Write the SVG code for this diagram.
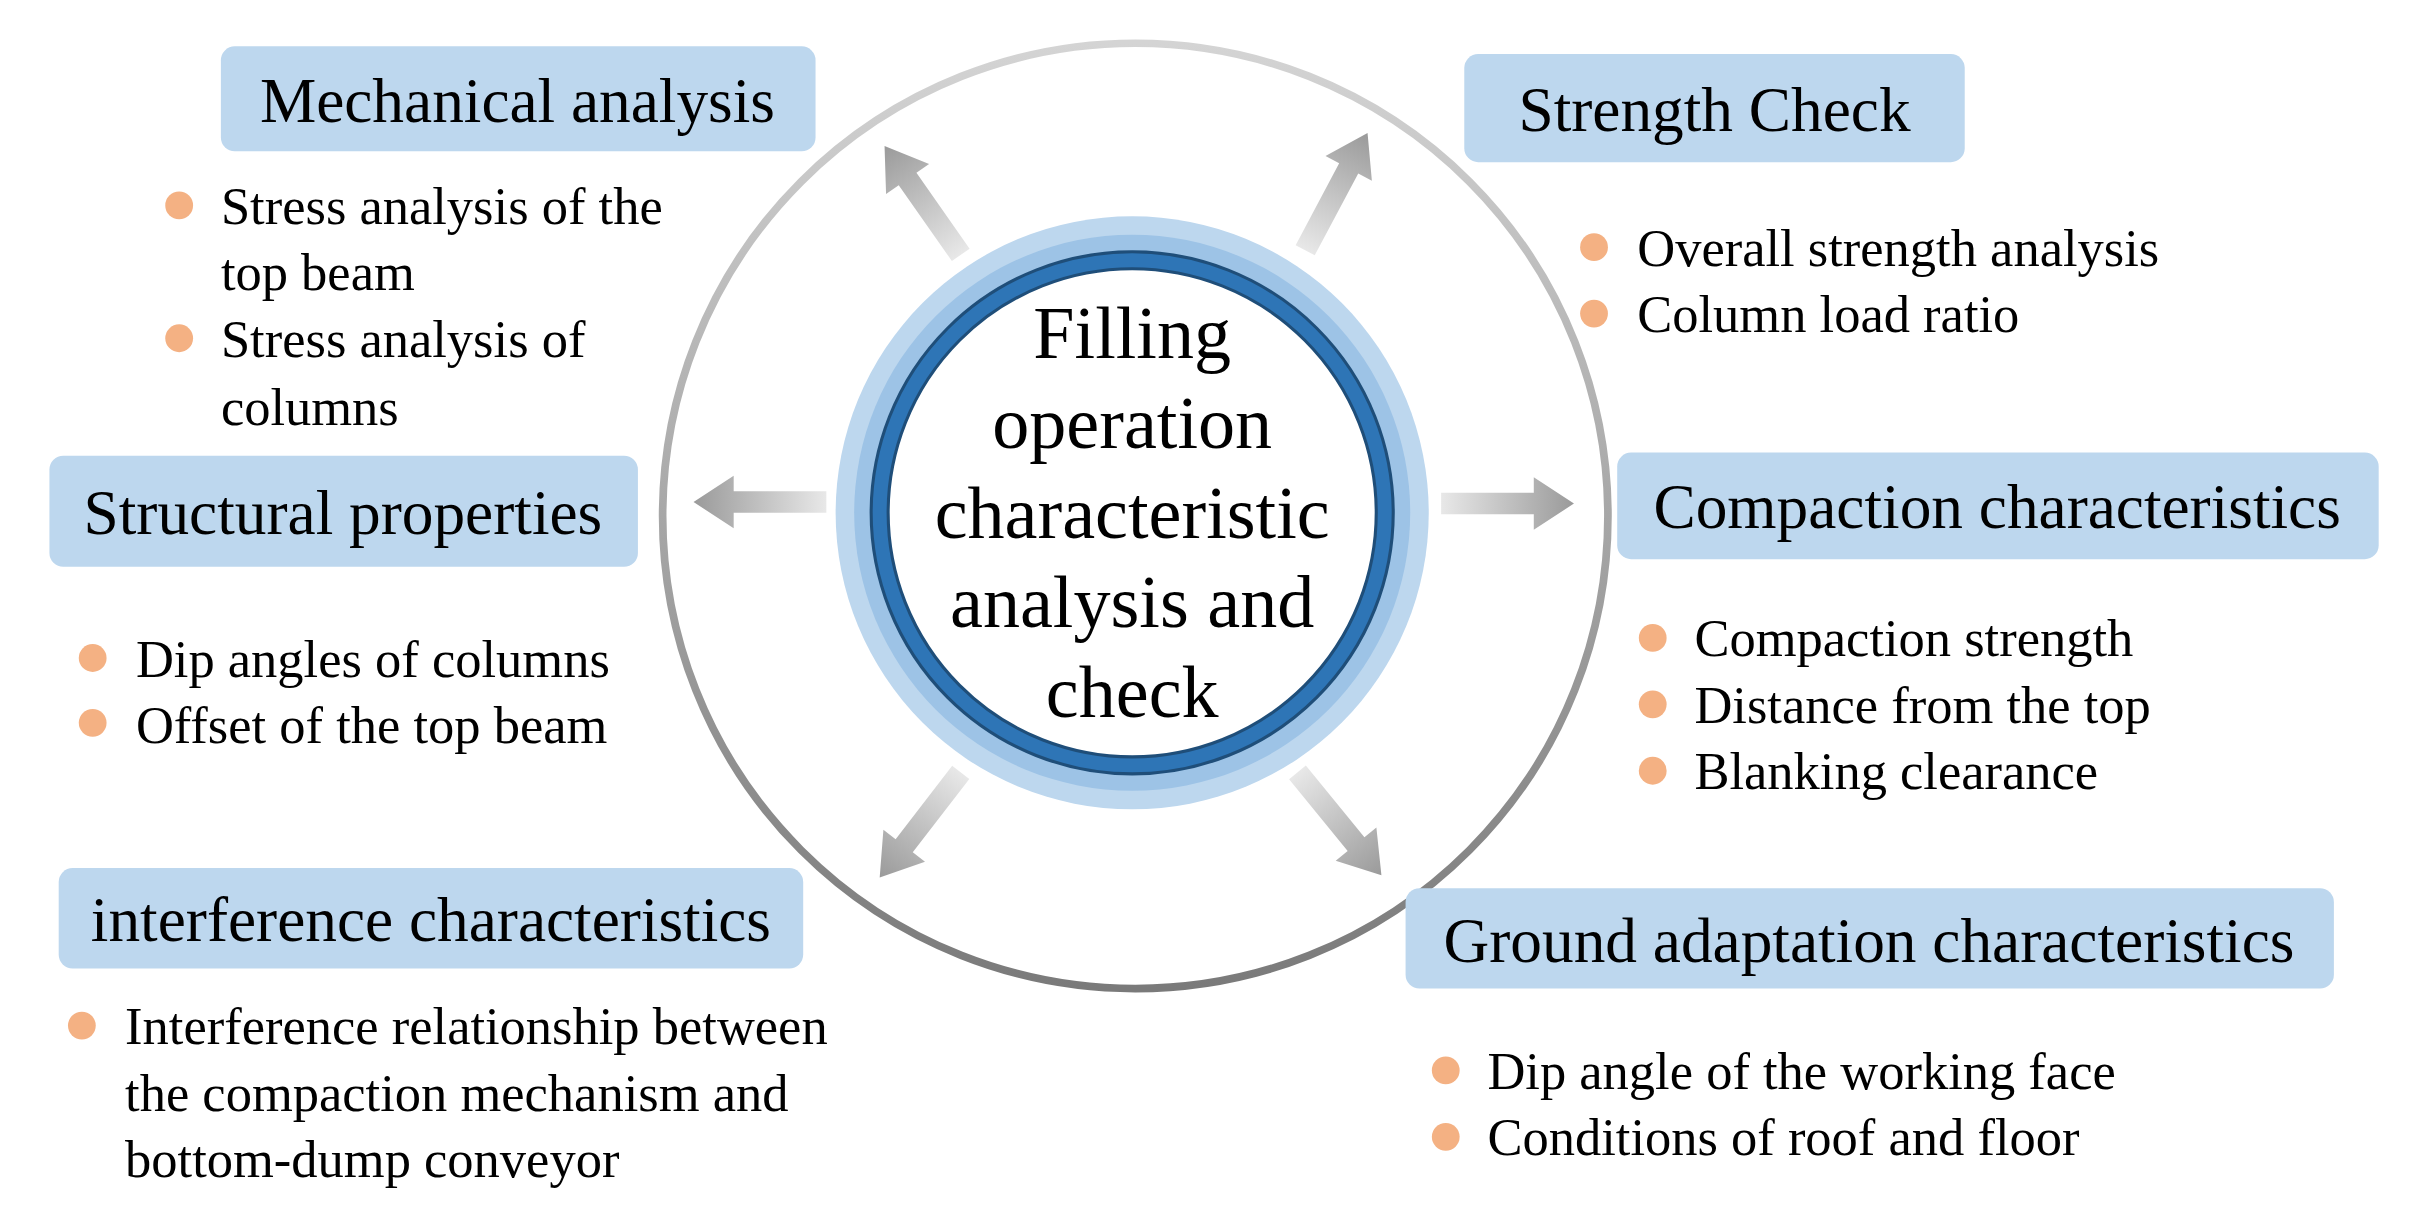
<svg xmlns="http://www.w3.org/2000/svg" width="2422" height="1231" viewBox="0 0 2422 1231">
<defs>
<linearGradient id="ring" x1="0" y1="0" x2="0" y2="1"><stop offset="0" stop-color="#d4d4d4"/><stop offset="1" stop-color="#7a7a7a"/></linearGradient>
<linearGradient id="arr" x1="0" y1="0" x2="1" y2="0"><stop offset="0" stop-color="#e8e8e8"/><stop offset="1" stop-color="#9a9a9a"/></linearGradient>
<path id="ar" d="M0,-7 L60,-7 L60,-17 L86,0 L60,17 L60,7 L0,7 Z" fill="url(#arr)"/>
<style>
.box{fill:#BDD7EE}
.h{font-family:"Liberation Serif",serif;font-size:41px;fill:#000;text-anchor:middle}
.t{font-family:"Liberation Serif",serif;font-size:34px;fill:#000}
.c{font-family:"Liberation Serif",serif;font-size:48px;fill:#000;text-anchor:middle}
.b{fill:#F4B183}
</style>
</defs>
<rect width="2422" height="1231" fill="#fff"/>
<g transform="scale(1.5446)">
<g id="center">
<circle cx="735" cy="334" r="306" fill="none" stroke="url(#ring)" stroke-width="5"/>
<circle cx="733" cy="332" r="192" fill="#BDD7EE"/>
<circle cx="733" cy="332" r="180" fill="#9DC3E6"/>
<circle cx="733" cy="332" r="169" fill="#2E75B6" stroke="#1F4E79" stroke-width="2"/>
<circle cx="733" cy="332" r="158" fill="#fff" stroke="#1F4E79" stroke-width="2"/>
<text class="c" x="733" y="232">Filling</text>
<text class="c" x="733" y="290">operation</text>
<text class="c" x="733" y="348">characteristic</text>
<text class="c" x="733" y="406">analysis and</text>
<text class="c" x="733" y="464">check</text>
</g>
<g id="connectors">
<use href="#ar" transform="translate(535,325) rotate(180)"/>
<use href="#ar" transform="translate(933,326)"/>
<use href="#ar" transform="translate(622,165) rotate(-125)"/>
<use href="#ar" transform="translate(845,162) rotate(-62)"/>
<use href="#ar" transform="translate(622,500) rotate(127.6)"/>
<use href="#ar" transform="translate(840,500) rotate(50.8)"/>
</g>
<g id="mechanical">
<rect class="box" x="143" y="30" width="385" height="68" rx="9"/>
<text class="h" x="335" y="79">Mechanical analysis</text>
<circle class="b" cx="116" cy="133" r="9"/><circle class="b" cx="116" cy="219" r="9"/>
<text class="t" x="143" y="145">Stress analysis of the</text>
<text class="t" x="143" y="188">top beam</text>
<text class="t" x="143" y="231">Stress analysis of</text>
<text class="t" x="143" y="275">columns</text>
</g>
<g id="strength">
<rect class="box" x="948" y="35" width="324" height="70" rx="9"/>
<text class="h" x="1110" y="85">Strength Check</text>
<circle class="b" cx="1032" cy="160" r="9"/><circle class="b" cx="1032" cy="203" r="9"/>
<text class="t" x="1060" y="172">Overall strength analysis</text>
<text class="t" x="1060" y="215">Column load ratio</text>
</g>
<g id="structural">
<rect class="box" x="32" y="295" width="381" height="72" rx="9"/>
<text class="h" x="222" y="346">Structural properties</text>
<circle class="b" cx="60" cy="426" r="9"/><circle class="b" cx="60" cy="468" r="9"/>
<text class="t" x="88" y="438">Dip angles of columns</text>
<text class="t" x="88" y="481">Offset of the top beam</text>
</g>
<g id="compaction">
<rect class="box" x="1047" y="293" width="493" height="69" rx="9"/>
<text class="h" x="1293" y="342">Compaction characteristics</text>
<circle class="b" cx="1070" cy="413" r="9"/><circle class="b" cx="1070" cy="456" r="9"/><circle class="b" cx="1070" cy="499" r="9"/>
<text class="t" x="1097" y="425">Compaction strength</text>
<text class="t" x="1097" y="468">Distance from the top</text>
<text class="t" x="1097" y="511">Blanking clearance</text>
</g>
<g id="interference">
<rect class="box" x="38" y="562" width="482" height="65" rx="9"/>
<text class="h" x="279" y="609">interference characteristics</text>
<circle class="b" cx="53" cy="664" r="9"/>
<text class="t" x="81" y="676">Interference relationship between</text>
<text class="t" x="81" y="719">the compaction mechanism and</text>
<text class="t" x="81" y="762">bottom-dump conveyor</text>
</g>
<g id="ground">
<rect class="box" x="910" y="575" width="601" height="65" rx="9"/>
<text class="h" x="1210" y="623">Ground adaptation characteristics</text>
<circle class="b" cx="936" cy="693" r="9"/><circle class="b" cx="936" cy="736" r="9"/>
<text class="t" x="963" y="705">Dip angle of the working face</text>
<text class="t" x="963" y="748">Conditions of roof and floor</text>
</g>
</g>
</svg>
